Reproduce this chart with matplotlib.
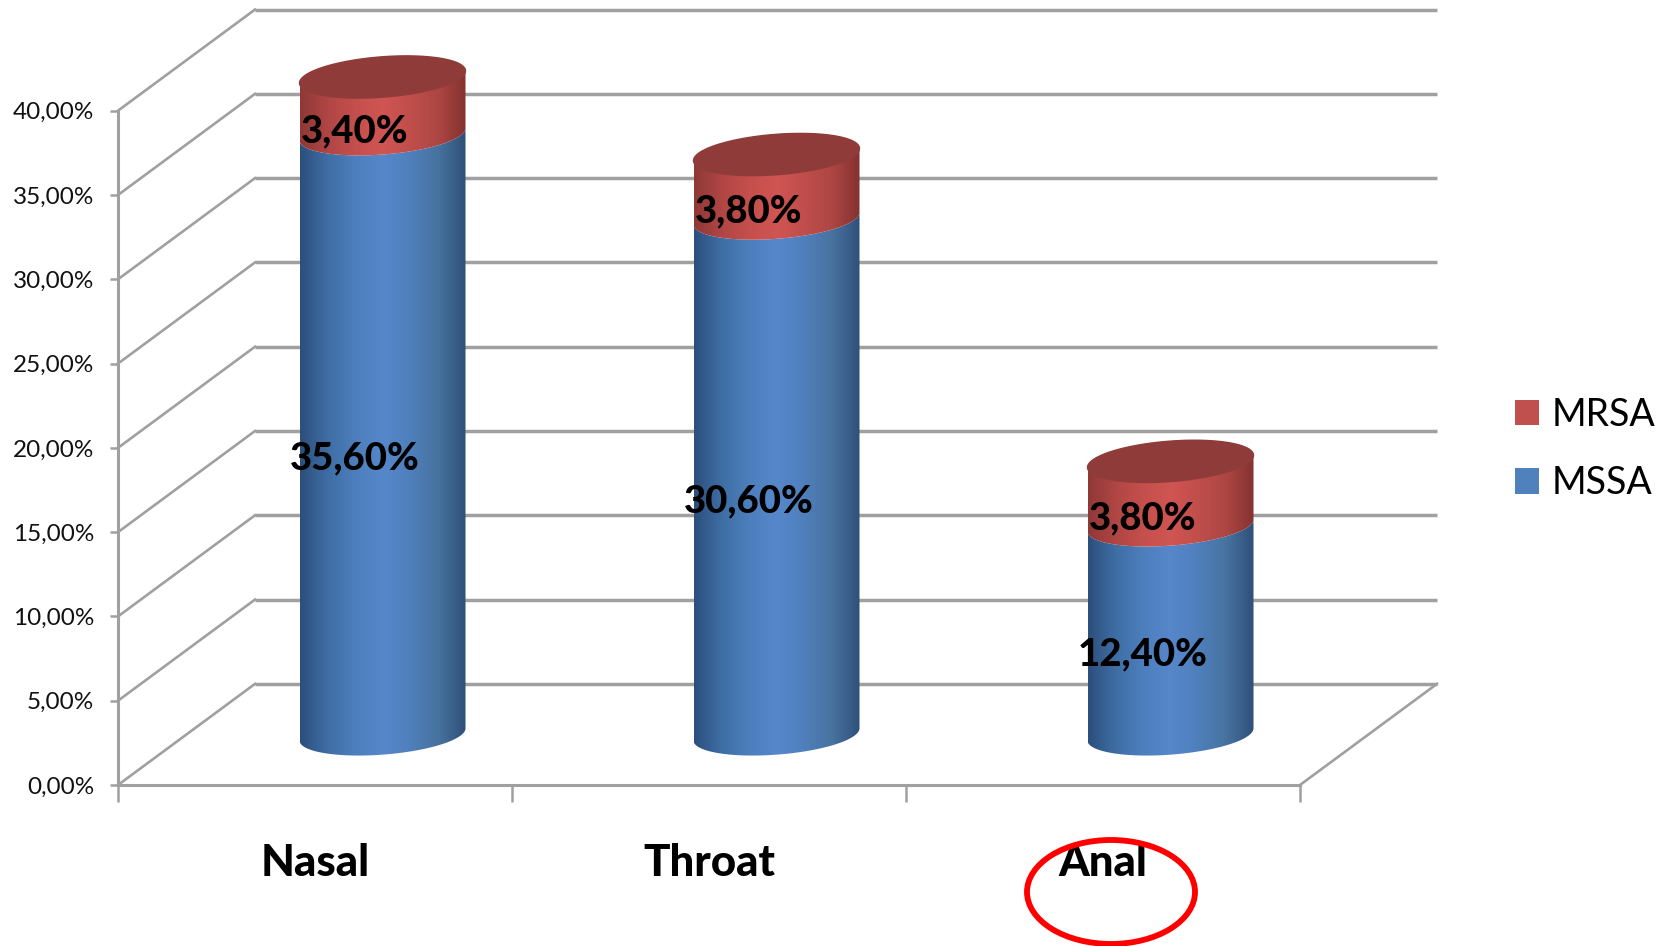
import numpy as np
import matplotlib
matplotlib.use("Agg")
import matplotlib.pyplot as plt
from matplotlib.colors import LinearSegmentedColormap
from matplotlib.patches import Ellipse, Patch, Polygon

categories = ["Nasal", "Throat", "Anal"]
mssa = [35.6, 30.6, 12.4]
mrsa = [3.4, 3.8, 3.8]
mssa_labels = ["35,60%", "30,60%", "12,40%"]
mrsa_labels = ["3,40%", "3,80%", "3,80%"]
y_ticks = [0, 5, 10, 15, 20, 25, 30, 35, 40]
y_tick_labels = ["0,00%", "5,00%", "10,00%", "15,00%", "20,00%", "25,00%", "30,00%", "35,00%", "40,00%"]

W, H = 1669, 946
plt.rcParams["font.family"] = ["Lato", "DejaVu Sans"]
fig = plt.figure(figsize=(W / 100, H / 100), dpi=100, facecolor="white")
L, R, T, B = 118, 1306 - 6, 110.7, 785
ax = fig.add_axes([L / W, 1 - B / H, (R - L) / W, (B - T) / H])
ax.patch.set_visible(False)
GRID = "#a0a0a0"
PX = (R - L) / 3
DX, DY = 137 / PX, 6.0   # depth of the 3D box, in data units

# back wall, left wall, floor
for v in y_ticks:
    ax.plot([DX, 3 + DX], [v + DY, v + DY], color=GRID, lw=2.5, clip_on=False, zorder=1, solid_capstyle="butt")
    ax.plot([0, DX], [v, v + DY], color=GRID, lw=1.9, clip_on=False, zorder=1)
ax.plot([3, 3 + DX], [0, DY], color=GRID, lw=1.9, clip_on=False, zorder=1)

blue = LinearSegmentedColormap.from_list("b", ["#2c4f7c", "#3f6ea5", "#4d7fbd", "#5687cb", "#4f7fbc", "#47739f", "#2f507a"])
red = LinearSegmentedColormap.from_list("r", ["#8f3836", "#b04644", "#c54f4c", "#d05553", "#c04e4b", "#ad4643", "#843230"])

A, Bb, K = 83 / PX, 1.2, 0.36   # ellipse semi axes and shear, data units
t = np.linspace(0, 2 * np.pi, 200)


def ring(cx, cy):
    return cx + A * np.cos(t), cy + Bb * np.sin(t) + K * np.cos(t)


def segment(cx, y0, y1, cmap, z):
    # lower arc of the base ellipse, up the side, back along the lower arc of the top ellipse
    tt = np.linspace(np.pi, 2 * np.pi, 100)
    x = cx + A * np.cos(tt)
    low = y0 + Bb * np.sin(tt) + K * np.cos(tt)
    up = y1 + Bb * np.sin(tt) + K * np.cos(tt)
    poly = Polygon(np.r_[np.c_[x, low], np.c_[x[::-1], up[::-1]]], closed=True, fc="none", ec="none", transform=ax.transData)
    ax.add_patch(poly)
    im = ax.imshow(np.linspace(0, 1, 256)[None, :], cmap=cmap, aspect="auto",
                   extent=[cx - A, cx + A, y0 - 3, y1 + 3], zorder=z)
    im.set_clip_box(fig.bbox)
    im.set_clip_path(poly)
    poly.set_clip_on(False)


for i in range(len(categories)):
    cx = i + 0.5 + DX / 2 - 1 / PX
    base = DY / 2
    top1 = base + mssa[i]
    top2 = top1 + mrsa[i]
    segment(cx, base, top1, blue, 3)
    segment(cx, top1, top2, red, 4)
    x, y = ring(cx, top2)
    ax.fill(x, y, color="#8e3b39", zorder=5, clip_on=False)
    ax.text(i + 0.6, mssa[i] / 2 + 1.55, mssa_labels[i], ha="center", va="center", fontsize=27.6,
            fontweight="black", color="black", zorder=6, clip_on=False)
    ax.text(i + 0.6, mssa[i] + mrsa[i] / 2 + 1.5, mrsa_labels[i], ha="center", va="center", fontsize=27.6,
            fontweight="black", color="black", zorder=6, clip_on=False)

ax.set_xlim(0, 3)
ax.set_ylim(0, 40)
for s in ("top", "right"):
    ax.spines[s].set_visible(False)
for s in ("left", "bottom"):
    ax.spines[s].set_color(GRID)
    ax.spines[s].set_linewidth(2.2)
ax.spines["left"].set_zorder(2)
ax.set_yticks(y_ticks)
ax.set_yticklabels(y_tick_labels, fontsize=17.5, color="#111111")
ax.tick_params(axis="y", length=6, width=1.8, color=GRID, pad=11)
ax.set_xticks([0, 1, 2, 3])
ax.set_xticklabels([])
ax.tick_params(axis="x", which="major", length=12, width=1.8, color=GRID)
ax.set_xticks([0.5, 1.5, 2.5], minor=True)
ax.set_xticklabels(categories, minor=True, fontsize=31.6, fontweight="black")
ax.tick_params(axis="x", which="minor", length=0, pad=41.5)

# red hand-drawn circle around Anal
ax.add_patch(Ellipse((2.5 + 8 / PX, -107 / 16.86), 168 / PX, 104 / 16.86, fc="none", ec="#ff0000", lw=4.2,
                     clip_on=False, zorder=7))

handles = [Patch(fc="#C0504D", label="MRSA"), Patch(fc="#4F81BD", label="MSSA")]
fig.legend(handles=handles, loc="center left", bbox_to_anchor=(1515 / W, 1 - 449 / H), frameon=False, fontsize=27,
           handlelength=0.65, handleheight=0.67, handletextpad=0.32, labelspacing=0.87, borderpad=0, borderaxespad=0)

fig.savefig("out.png", dpi=100)
